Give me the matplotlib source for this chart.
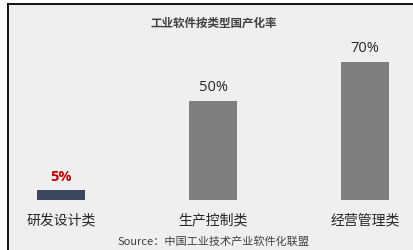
import matplotlib
matplotlib.use("Agg")
import matplotlib.pyplot as plt
from matplotlib.patches import Rectangle
from matplotlib.lines import Line2D

plt.rcParams['font.family'] = ['Noto Sans CJK SC', 'DejaVu Sans']

categories = ["研发设计类", "生产控制类", "经营管理类"]
values = [5, 50, 70]
value_labels = ["5%", "50%", "70%"]
bar_colors = ["#3b465f", "#7f7f7f", "#7f7f7f"]
label_colors = ["#c00000", "#262626", "#262626"]
title = "工业软件按类型国产化率"
source = "Source：中国工业技术产业软件化联盟"

W, H = 413, 251
fig = plt.figure(figsize=(W / 100, H / 100), dpi=100)
fig.patch.set_facecolor("white")

# panel background
bg = Rectangle((8 / W, 0), 1 - 8 / W, 1 - 5 / H, transform=fig.transFigure,
               facecolor="#efefef", edgecolor="none", zorder=-10)
fig.patches.append(bg)
fig.lines.append(Line2D([8 / W, 8 / W], [0, 1 - 5 / H], transform=fig.transFigure,
                        color="black", lw=1.3, zorder=10))
fig.lines.append(Line2D([8 / W, 1], [1 - 5 / H, 1 - 5 / H], transform=fig.transFigure,
                        color="black", lw=1.3, zorder=10))

base_px = 50
scale = 138 / 70
ax = fig.add_axes([0, base_px / H, 1, 138 / H])
ax.set_facecolor("none")
ax.set_zorder(1)
x = list(range(len(categories)))
ax.bar(x, values, width=48 / 152, color=bar_colors, zorder=2)
ax.set_xlim(-61 / 152, (W - 61) / 152)
ax.set_ylim(0, 70)
for s in ax.spines.values():
    s.set_visible(False)
ax.set_xticks([])
ax.set_yticks([])
ax.axhline(0, color="#e4e4e4", lw=0.8, zorder=1)

for xi, v, lab, c in zip(x, values, value_labels, label_colors):
    ax.text(xi, v + 7 / scale, lab, ha="center", va="bottom",
            fontsize=10.5, color=c, family=["Open Sans", "DejaVu Sans"],
            fontweight="bold" if c == "#c00000" else "normal", clip_on=False)

for xi, cat in zip(x, categories):
    ax.text(xi, -19 / scale, cat, ha="center", va="center", fontsize=10,
            color="#262626", clip_on=False)

fig.text(214 / W, 1 - 23 / H, title, ha="center", va="center", fontsize=8.3,
         color="#404040", fontweight="bold")
fig.text(214 / W, 1 - 242 / H, source, ha="center", va="center", fontsize=8,
         color="#404040")

fig.savefig("out.png", dpi=100, facecolor=fig.get_facecolor())
